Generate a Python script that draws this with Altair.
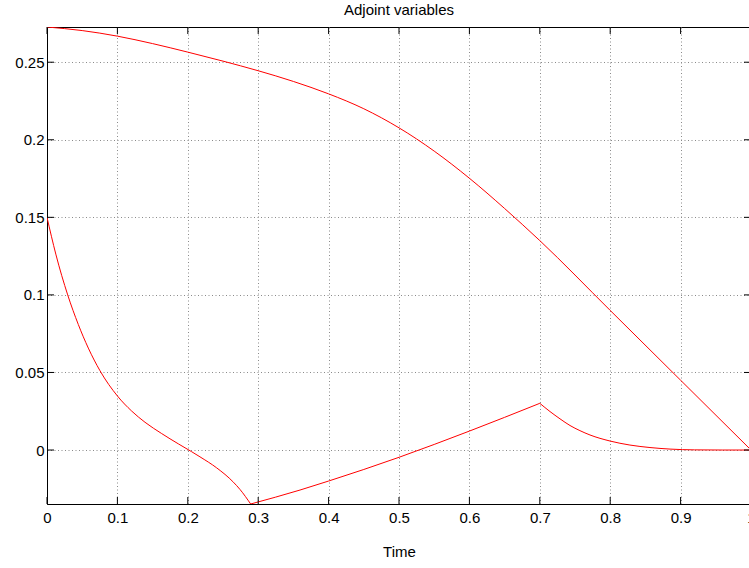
import altair as alt
import pandas as pd

# ---- data ----
upper_t = [0.0, 0.05, 0.1, 0.15, 0.2, 0.25, 0.3, 0.35, 0.4, 0.45, 0.5, 0.55, 0.6, 0.65, 0.7, 0.8, 0.9, 1.0]
upper_v = [0.2727, 0.2704, 0.2668, 0.2620, 0.2565, 0.2507, 0.2445, 0.2376, 0.2296, 0.2200, 0.2077, 0.1927,
           0.1752, 0.1557, 0.1350, 0.0900, 0.0450, 0.0]

lowA_t = [0.0, 0.0125, 0.0294, 0.0445, 0.0587, 0.0753, 0.0999, 0.1203, 0.1392, 0.1629, 0.1865, 0.2055,
          0.2173, 0.241, 0.2647, 0.2741, 0.2893]
lowA_v = [0.15, 0.1263, 0.1, 0.0809, 0.0657, 0.0511, 0.0349, 0.0251, 0.0179, 0.0106, 0.0040, -0.0011,
          -0.0044, -0.0115, -0.0207, -0.0254, -0.0348]

lowB_t = [0.2893, 0.3594, 0.4, 0.5, 0.6, 0.7]
lowB_v = [-0.0348, -0.0258, -0.02, -0.0047, 0.0122, 0.0301]

lowC_t = [0.7, 0.7145, 0.7287, 0.7429, 0.757, 0.7713, 0.7997, 0.828, 0.8565, 0.885, 0.92, 0.96, 1.0]
lowC_v = [0.0301, 0.0248, 0.0201, 0.0158, 0.0125, 0.0097, 0.0058, 0.0032, 0.0016, 0.0006, 0.0001, 0.0, 0.0]

x_ticks = [0.0, 0.1, 0.2, 0.3, 0.4, 0.5, 0.6, 0.7, 0.8, 0.9, 1.0]
y_ticks = [0.0, 0.05, 0.1, 0.15, 0.2, 0.25]
x_domain = [0.0, 1.0]
y_domain = [-0.0348, 0.2727]

rows = []
for name, ts, vs in [("upper", upper_t, upper_v), ("lowA", lowA_t, lowA_v),
                     ("lowB", lowB_t, lowB_v), ("lowC", lowC_t, lowC_v)]:
    for t, v in zip(ts, vs):
        rows.append({"t": t, "v": v, "seg": name})
df = pd.DataFrame(rows)
xt_df = pd.DataFrame({"t": x_ticks})
yt_df = pd.DataFrame({"v": y_ticks})

W, H = 704, 477
FONT = "Liberation Sans"
xs = alt.Scale(domain=x_domain, nice=False, zero=False)
ys = alt.Scale(domain=y_domain, nice=False, zero=False)

x_axis = alt.Axis(
    values=x_ticks, format="~g", title="Time", grid=True, gridDash=[1, 2.5], gridColor="#8a8a8a",
    domainColor="black", tickSize=0, labelPadding=6, titlePadding=19, labelFontSize=15,
    titleFontSize=15, titleFontWeight="normal", labelFont=FONT, titleFont=FONT,
    labelColor="black", titleColor="black", labelFlush=False)
y_axis = alt.Axis(
    values=y_ticks, format="~g", title=None, grid=True, gridDash=[1, 2.5], gridColor="#8a8a8a",
    domainColor="black", tickSize=0, labelPadding=3, labelFontSize=15, labelFont=FONT,
    labelColor="black", labelFlush=False)

lines = alt.Chart(df).mark_line(color="#ff0000", strokeWidth=1, interpolate="monotone", clip=True).encode(
    x=alt.X("t:Q", scale=xs, axis=x_axis),
    y=alt.Y("v:Q", scale=ys, axis=y_axis),
    detail="seg:N",
)

bx = alt.Chart(xt_df).mark_rule(color="black", strokeWidth=1).encode(
    x=alt.X("t:Q", scale=xs, axis=x_axis), y=alt.value(H), y2=alt.value(H - 7))
tx = alt.Chart(xt_df).mark_rule(color="black", strokeWidth=1).encode(
    x=alt.X("t:Q", scale=xs, axis=x_axis), y=alt.value(0), y2=alt.value(7))
ly = alt.Chart(yt_df).mark_rule(color="black", strokeWidth=1).encode(
    y=alt.Y("v:Q", scale=ys, axis=y_axis), x=alt.value(0), x2=alt.value(7))
ry = alt.Chart(yt_df).mark_rule(color="black", strokeWidth=1).encode(
    y=alt.Y("v:Q", scale=ys, axis=y_axis), x=alt.value(W - 7), x2=alt.value(W))

chart = alt.layer(lines, bx, tx, ly, ry).properties(
    width=W, height=H,
    title=alt.TitleParams("Adjoint variables", fontSize=15, fontWeight="normal", font=FONT,
                          anchor="middle", offset=9, color="black"),
    autosize=alt.AutoSizeParams(type="none"),
    padding={"left": 47, "top": 27, "right": -2, "bottom": 64},
).configure(background="white").configure_view(stroke="black", strokeWidth=1)

chart.save("out.html", embed_options={"renderer": "svg", "actions": False})
